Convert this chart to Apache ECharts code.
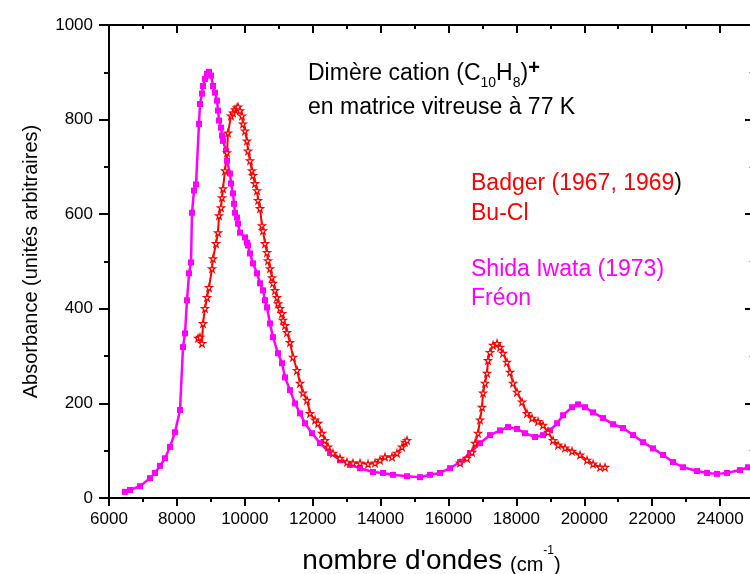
<!DOCTYPE html>
<html>
<head>
<meta charset="utf-8">
<script src="https://cdn.jsdelivr.net/npm/echarts@6/dist/echarts.min.js"></script>
<style>
  html, body { margin: 0; padding: 0; background: #fff; }
  #chart { width: 750px; height: 574px; }
</style>
</head>
<body>
<div id="chart"></div>
<script>
// Shida Iwata (1973), Fréon — [wavenumber, absorbance]
const shidaX = [6471, 6619, 6913, 7208, 7355, 7502, 7650, 7797, 7944, 8092, 8180, 8239, 8298, 8357, 8416, 8445, 8504, 8563, 8651, 8681, 8740, 8769, 8828, 8887, 8946, 9005, 9064, 9123, 9182, 9211, 9241, 9300, 9329, 9359, 9447, 9476, 9565, 9594, 9653, 9683, 9712, 9771, 9800, 9859, 10006, 10065, 10095, 10154, 10242, 10360, 10448, 10537, 10596, 10655, 10743, 10831, 10979, 11097, 11185, 11332, 11480, 11627, 11774, 11980, 12216, 12511, 12805, 13100, 13394, 13777, 14072, 14367, 14779, 15162, 15457, 15751, 16046, 16340, 16635, 16930, 17224, 17519, 17754, 18019, 18255, 18550, 18786, 18992, 19198, 19375, 19640, 19817, 20023, 20259, 20553, 20848, 21142, 21437, 21732, 22026, 22321, 22615, 22910, 23322, 23617, 23912, 24206, 24589, 24825, 25000];
const shidaY = [13, 17, 25, 42, 53, 68, 84, 108, 139, 186, 319, 348, 418, 475, 498, 603, 650, 663, 791, 833, 855, 871, 886, 897, 901, 893, 871, 857, 840, 819, 798, 783, 766, 755, 734, 713, 686, 665, 644, 622, 603, 593, 580, 561, 551, 540, 534, 517, 496, 475, 454, 439, 418, 403, 369, 340, 306, 285, 255, 228, 200, 179, 158, 137, 116, 95, 80, 70, 63, 55, 53, 49, 46, 44, 49, 53, 63, 76, 95, 116, 133, 143, 150, 146, 137, 129, 133, 143, 158, 175, 192, 198, 192, 181, 169, 156, 148, 133, 118, 105, 91, 76, 65, 57, 53, 51, 53, 59, 65, 70];

// Badger (1967, 1969), Bu-Cl — two measured ranges
const badgerX1 = [8622, 8681, 8740, 8769, 8828, 8887, 8946, 9034, 9064, 9152, 9211, 9241, 9300, 9329, 9359, 9417, 9476, 9506, 9594, 9653, 9712, 9771, 9800, 9859, 9918, 9948, 10006, 10065, 10095, 10154, 10213, 10242, 10301, 10360, 10390, 10448, 10507, 10537, 10596, 10655, 10684, 10743, 10802, 10831, 10890, 10949, 10979, 11038, 11097, 11126, 11185, 11244, 11332, 11421, 11539, 11627, 11715, 11833, 11921, 12069, 12157, 12275, 12364, 12452, 12599, 12805, 13011, 13188, 13394, 13630, 13836, 13983, 14131, 14337, 14484, 14632, 14720, 14779];
const badgerY1 = [338, 340, 327, 369, 401, 424, 445, 485, 506, 538, 561, 597, 614, 635, 654, 692, 730, 772, 808, 814, 821, 825, 827, 819, 808, 791, 776, 755, 734, 713, 692, 682, 665, 650, 629, 612, 576, 565, 538, 519, 502, 485, 466, 454, 439, 424, 411, 401, 390, 376, 365, 350, 329, 298, 270, 243, 222, 207, 179, 165, 158, 137, 122, 108, 95, 84, 76, 74, 74, 72, 74, 80, 87, 87, 95, 108, 118, 122];
const badgerX2 = [16340, 16547, 16694, 16783, 16871, 16930, 16989, 17018, 17077, 17136, 17165, 17224, 17313, 17431, 17519, 17607, 17725, 17813, 17902, 18019, 18167, 18314, 18462, 18638, 18786, 18933, 19080, 19228, 19434, 19640, 19876, 20082, 20259, 20465, 20612];
const badgerY2 = [74, 84, 97, 116, 137, 165, 192, 222, 243, 264, 291, 308, 323, 327, 319, 306, 287, 266, 243, 224, 203, 179, 169, 162, 154, 139, 122, 112, 106, 99, 91, 80, 72, 65, 65];

const xTicks = [6000, 25000, 2000];
const yTicks = [0, 1000, 200];

const zip = (xs, ys) => xs.map((x, i) => [x, ys[i]]);
const badgerData = zip(badgerX1, badgerY1).concat([[15500, null]], zip(badgerX2, badgerY2));

const chart = echarts.init(document.getElementById('chart'));
const font = 'Liberation Sans, Arial, sans-serif';
const axisLine = { show: true, onZero: false, lineStyle: { color: '#000', width: 2 } };
const star = 'path://M50,0 L61,35 L98,35 L68,57 L79,91 L50,70 L21,91 L32,57 L2,35 L39,35 Z';
const plain = v => String(v);

const option = {
  animation: false,
  backgroundColor: '#fff',
  grid: { left: 109, right: -4, top: 25, bottom: 76, outerBoundsMode: 'none' },
  xAxis: [
    {
      type: 'value', min: xTicks[0], max: xTicks[1], interval: xTicks[2],
      axisLine,
      axisTick: { length: 8, lineStyle: { width: 2, color: '#000' } },
      minorTick: { show: true, splitNumber: 2, length: 4, lineStyle: { width: 2, color: '#000' } },
      splitLine: { show: false },
      axisLabel: { fontSize: 17, color: '#000', fontFamily: font, margin: 13, showMaxLabel: false, formatter: plain },
      name: '{a|nombre d\'ondes }{b|(cm}{s|-1}{b|)}',
      nameLocation: 'middle',
      nameGap: 47,
      nameTextStyle: {
        rich: {
          a: { fontSize: 28, fontFamily: font, color: '#000', verticalAlign: 'bottom', lineHeight: 30 },
          b: { fontSize: 20, fontFamily: font, color: '#000', verticalAlign: 'bottom', lineHeight: 30 },
          s: { fontSize: 12, fontFamily: font, color: '#000', verticalAlign: 'top', lineHeight: 30 }
        }
      }
    },
    {
      type: 'value', position: 'top', min: xTicks[0], max: xTicks[1], interval: xTicks[2],
      axisLine,
      axisTick: { inside: true, length: 8, lineStyle: { width: 2, color: '#000' } },
      minorTick: { show: true, splitNumber: 2, length: 4, lineStyle: { width: 2, color: '#000' } },
      splitLine: { show: false },
      axisLabel: { show: false }
    }
  ],
  yAxis: [
    {
      type: 'value', min: yTicks[0], max: yTicks[1], interval: yTicks[2],
      axisLine,
      axisTick: { length: 10, lineStyle: { width: 2, color: '#000' } },
      minorTick: { show: true, splitNumber: 2, length: 5, lineStyle: { width: 2, color: '#000' } },
      splitLine: { show: false },
      axisLabel: { fontSize: 17, color: '#000', fontFamily: font, margin: 16, formatter: plain },
      name: 'Absorbance (unités arbitraires)',
      nameLocation: 'middle',
      nameGap: 68,
      nameTextStyle: { fontSize: 20, fontFamily: font, color: '#000' }
    },
    {
      type: 'value', position: 'right', min: yTicks[0], max: yTicks[1], interval: yTicks[2],
      axisLine,
      axisTick: { inside: true, length: 9, lineStyle: { width: 2, color: '#000' } },
      minorTick: { show: true, splitNumber: 2, length: 5, lineStyle: { width: 1, color: '#888' } },
      splitLine: { show: false },
      axisLabel: { show: false }
    }
  ],
  series: [
    {
      name: 'Shida Iwata (1973)',
      type: 'line',
      data: zip(shidaX, shidaY),
      symbol: 'rect',
      symbolSize: 6,
      showAllSymbol: true,
      lineStyle: { color: '#ff00ff', width: 2.5 },
      itemStyle: { color: '#ff00ff' }
    },
    {
      name: 'Badger (1967, 1969)',
      type: 'line',
      data: badgerData,
      connectNulls: false,
      symbol: star,
      symbolSize: 7,
      showAllSymbol: true,
      lineStyle: { color: '#ff0000', width: 2 },
      itemStyle: { color: '#fff', borderColor: '#ff0000', borderWidth: 1.2 }
    }
  ],
  graphic: [
    {
      type: 'text', left: 308, top: 58,
      style: {
        text: '{a|Dimère cation (C}{s|10}{a|H}{s|8}{a|)}{p|+}',
        rich: {
          a: { fontSize: 23, fontFamily: font, fill: '#000', lineHeight: 32, verticalAlign: 'middle' },
          s: { fontSize: 14, fontFamily: font, fill: '#000', lineHeight: 32, verticalAlign: 'bottom' },
          p: { fontSize: 20, fontWeight: 'bold', fontFamily: font, fill: '#000', lineHeight: 32, verticalAlign: 'top' }
        }
      }
    },
    { type: 'text', left: 308, top: 96, style: { text: 'en matrice vitreuse à 77 K', font: '23px ' + font, fill: '#000' } },
    {
      type: 'text', left: 471, top: 172,
      style: {
        text: '{r|Badger (1967, 1969}{k|)}',
        rich: {
          r: { fontSize: 23, fontFamily: font, fill: '#ff0000' },
          k: { fontSize: 23, fontFamily: font, fill: '#000' }
        }
      }
    },
    { type: 'text', left: 471, top: 202, style: { text: 'Bu-Cl', font: '23px ' + font, fill: '#ff0000' } },
    { type: 'text', left: 471, top: 258, style: { text: 'Shida Iwata (1973)', font: '23px ' + font, fill: '#ff00ff' } },
    { type: 'text', left: 471, top: 287, style: { text: 'Fréon', font: '23px ' + font, fill: '#ff00ff' } }
  ]
};

chart.setOption(option);
</script>
</body>
</html>
